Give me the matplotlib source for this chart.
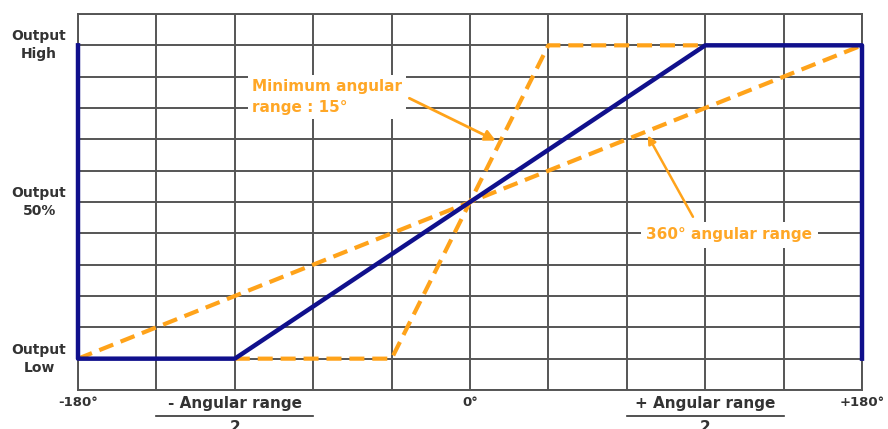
import matplotlib.pyplot as plt
from matplotlib.transforms import blended_transform_factory

# angles (deg) and output level (0 = low, 10 = high)
blue_x = [-180, -180, -108, 108, 180, 180]
blue_y = [10, 0, 0, 10, 10, 0]
wide_x = [-180, 180]
wide_y = [0, 10]
steep_x = [-108, -36, 36, 108]
steep_y = [0, 0, 10, 10]

xtick_pos = [-180, 0, 180]
xtick_lab = ['-180°', '0°', '+180°']
ylab_pos = [10, 5, 0]
ylab_txt = ['Output\nHigh', 'Output\n50%', 'Output\nLow']

navy = '#10108c'
orange = '#ffa31a'
txt_orange = '#ffa726'
gridc = '#555555'
dark = '#333333'

plt.rcParams['font.family'] = ['DejaVu Sans']

fig = plt.figure(figsize=(8.88, 4.29), dpi=100)
ax = fig.add_axes([78 / 888, 1 - 390 / 429, 784 / 888, 376 / 429])
ax.set_xlim(-180, 180)
ax.set_ylim(-1, 11)

for x in range(-180, 181, 36):
    ax.axvline(x, color=gridc, lw=1.4, zorder=1)
for y in range(-1, 12):
    ax.axhline(y, color=gridc, lw=1.4, zorder=1)
for s in ax.spines.values():
    s.set_color(gridc)
    s.set_linewidth(1.4)

dash = (0, (3.6, 1.9))
ax.plot(wide_x, wide_y, color=orange, lw=3, ls=dash, zorder=3, clip_on=False)
ax.plot(steep_x, steep_y, color=orange, lw=3, ls=dash, zorder=3)
ax.plot(blue_x, blue_y, color=navy, lw=3.2, zorder=4, clip_on=False)

ax.set_xticks(xtick_pos)
ax.set_xticklabels(xtick_lab, fontsize=9.5, fontweight='bold', color=dark)
ax.set_yticks([])
ax.tick_params(axis='x', length=0, pad=4)

for y, t in zip(ylab_pos, ylab_txt):
    ax.annotate(t, (-180, y), xytext=(-28, 0), textcoords='offset points',
                ha='center', va='center', ma='center', fontsize=10,
                fontweight='bold', color=dark, linespacing=1.35,
                annotation_clip=False)

tr = blended_transform_factory(ax.transData, ax.transAxes)
for xc, sign in [(-108, '-'), (108, '+')]:
    ax.text(xc, -0.035, sign + ' Angular range', transform=tr, ha='center', va='center',
            fontsize=11, fontweight='bold', color=dark, clip_on=False)
    ax.plot([xc - 36, xc + 36], [-0.07, -0.07], transform=tr, color=dark,
            lw=1.2, clip_on=False)
    ax.text(xc, -0.1, '2', transform=tr, ha='center', va='center',
            fontsize=11, fontweight='bold', color=dark, clip_on=False)

ax.text(-100, 8.35, 'Minimum angular\nrange : 15°', ha='left', va='center',
        fontsize=11, fontweight='bold', color=txt_orange, linespacing=1.45,
        bbox=dict(facecolor='white', edgecolor='none', pad=3), zorder=5)
ax.annotate('', xy=(13, 6.92), xytext=(-29, 8.35),
            arrowprops=dict(arrowstyle='-|>', color=orange, lw=2, mutation_scale=16),
            zorder=5)

ax.text(119, 3.95, '360° angular range', ha='center', va='center',
        fontsize=11, fontweight='bold', color=txt_orange,
        bbox=dict(facecolor='white', edgecolor='none', pad=4), zorder=5)
ax.annotate('', xy=(81, 7.2), xytext=(103, 4.45),
            arrowprops=dict(arrowstyle='-|>', color=orange, lw=1.8, mutation_scale=12),
            zorder=5)

fig.savefig('out.png', dpi=100)
